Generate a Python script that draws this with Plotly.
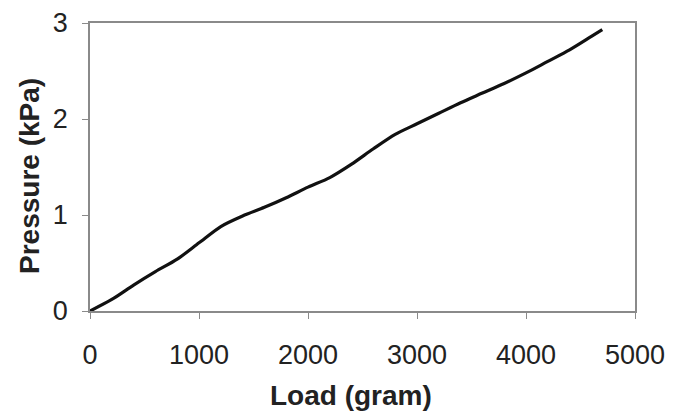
import plotly.graph_objects as go

load_gram = [0, 200, 400, 600, 800, 1000, 1200, 1400, 1600, 1800, 2000, 2200, 2400,
             2600, 2800, 3000, 3200, 3400, 3600, 3800, 4000, 4200, 4400, 4600, 4700]
pressure_kpa = [0, 0.12, 0.27, 0.41, 0.54, 0.71, 0.88, 0.99, 1.08, 1.18, 1.29, 1.39, 1.53,
                1.69, 1.84, 1.95, 2.06, 2.17, 2.27, 2.37, 2.48, 2.60, 2.72, 2.86, 2.93]

x_ticks = [0, 1000, 2000, 3000, 4000, 5000]
y_ticks = [0, 1, 2, 3]
x_title = "Load (gram)"
y_title = "Pressure (kPa)"

fig = go.Figure()
fig.add_trace(go.Scatter(x=load_gram, y=pressure_kpa, mode="lines",
                         line=dict(color="#111111", width=3.2, shape="spline", smoothing=0.8),
                         showlegend=False, hoverinfo="skip"))

font_family = "Liberation Sans, Arial, sans-serif"
axis_color = "#8a8a8a"
text_color = "#222222"

fig.update_layout(
    width=673, height=412,
    margin=dict(l=90, r=38, t=23, b=101, autoexpand=False),
    paper_bgcolor="white", plot_bgcolor="white",
    font=dict(family=font_family, color=text_color, size=27),
    xaxis=dict(range=[0, 5000], tickvals=x_ticks, ticktext=[str(v) for v in x_ticks],
               automargin=False,
               showgrid=False, zeroline=False, showline=True, linecolor=axis_color,
               linewidth=1.6, mirror=True, ticks="outside", ticklen=6, tickwidth=1.2,
               tickcolor=axis_color, ticklabelstandoff=13,
               tickfont=dict(size=27, color=text_color)),
    yaxis=dict(range=[0, 3], tickvals=y_ticks, ticktext=[str(v) for v in y_ticks],
               automargin=False,
               showgrid=False, zeroline=False, showline=True, linecolor=axis_color,
               linewidth=1.6, mirror=True, ticks="outside", ticklen=6, tickwidth=1.2,
               tickcolor=axis_color, ticklabelstandoff=9,
               tickfont=dict(size=27, color=text_color)),
    annotations=[
        dict(text=f"<b>{x_title}</b>", xref="paper", yref="paper", x=0.479, y=-0.292,
             xanchor="center", yanchor="middle", showarrow=False,
             font=dict(size=28, color=text_color)),
        dict(text=f"<b>{y_title}</b>", xref="paper", yref="paper", x=-0.110, y=0.469,
             xanchor="center", yanchor="middle", showarrow=False, textangle=-90,
             font=dict(size=28, color=text_color)),
    ],
)

fig.write_html("out.html")
